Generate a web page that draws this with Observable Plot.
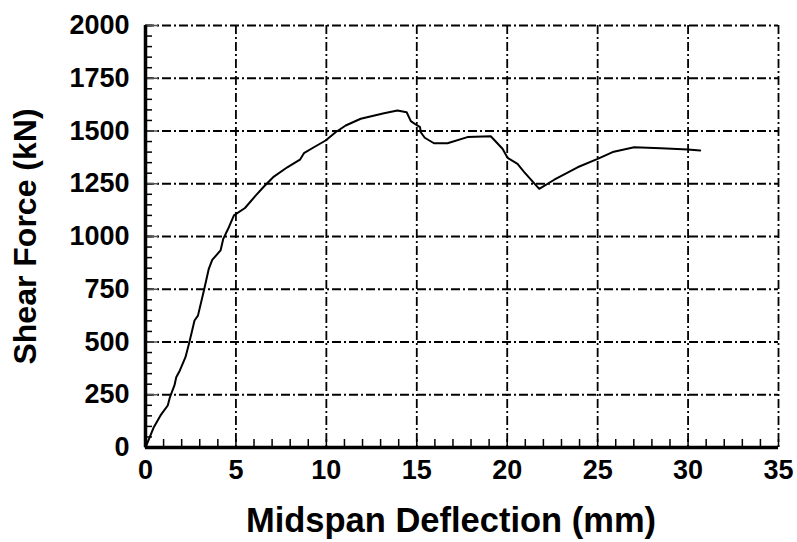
<!DOCTYPE html>
<html><head><meta charset="utf-8">
<script src="https://cdn.jsdelivr.net/npm/d3@7"></script>
<script src="https://cdn.jsdelivr.net/npm/@observablehq/plot@0.6"></script>
<style>body{margin:0;background:#fff}</style>
</head><body><div id="chart"></div>
<script>
const deflection = [0,0.46,0.83,1.23,1.35,1.42,1.6,1.7,1.9,2.21,2.4,2.58,2.71,2.9,3.23,3.5,3.69,4.15,4.3,4.61,4.89,5.5,6.09,6.55,7.1,7.84,8.54,8.76,9.31,9.96,10.51,11.07,11.9,13.19,13.93,14.44,14.67,14.94,15.18,15.22,15.44,15.95,16.7,17.8,19.09,19.74,20.02,20.57,20.94,21.77,22.6,23.89,25.0,25.83,27.02,28.5,29.98,30.67];
const shear = [0,96,152,199,238,254,294,333,365,428,491,554,602,625,744,847,889,934,989,1044,1100,1135,1194,1237,1284,1328,1364,1395,1423,1455,1494,1526,1558,1584,1597,1589,1547,1531,1518,1494,1468,1442,1442,1471,1475,1416,1373,1344,1305,1226,1269,1328,1368,1400,1423,1418,1412,1408];
const xTicks = [0,5,10,15,20,25,30,35];
const yTicks = [0,250,500,750,1000,1250,1500,1750,2000];
const xMinor = d3.range(0,36,1);
const yMinor = d3.range(0,2001,50);
const xTitle = "Midspan Deflection (mm)";
const yTitle = "Shear Force (kN)";
const data = deflection.map((d,i)=>({x:d,y:shear[i]}));
const dash = "9,3,2,3";
const fmt = d3.format("d");
const chart = Plot.plot({
  width:797, height:542, marginLeft:145, marginRight:19, marginTop:25, marginBottom:95,
  style:{fontFamily:"'Liberation Sans', Arial, sans-serif", fontWeight:"bold", background:"#fff", color:"#000"},
  x:{domain:[0,35]}, y:{domain:[0,2000]},
  marks:[
    Plot.ruleX(xTicks.filter(d=>d>0), {stroke:"#000", strokeWidth:1.8, strokeDasharray:dash}),
    Plot.ruleY(yTicks.filter(d=>d>0), {stroke:"#000", strokeWidth:1.8, strokeDasharray:dash}),
    Plot.axisX({ticks:xMinor, tickSize:-8, tickFormat:()=>"", label:null, strokeWidth:1.5}),
    Plot.axisY({ticks:yMinor, tickSize:-7, tickFormat:()=>"", label:null, strokeWidth:1.5}),
    Plot.axisY({ticks:yTicks, tickSize:-13, tickFormat:()=>"", label:null, strokeWidth:1.5, stroke:"#555"}),
    Plot.axisX({ticks:xTicks, tickSize:0, tickPadding:12, fontSize:27, label:null, tickFormat:fmt}),
    Plot.axisY({ticks:yTicks, tickSize:0, tickPadding:16, fontSize:27, label:null, tickFormat:fmt}),
    Plot.ruleX([0], {stroke:"#000", strokeWidth:3.5}),
    Plot.ruleY([0], {stroke:"#000", strokeWidth:3.5}),
    Plot.line(data, {x:"x", y:"y", stroke:"#000", strokeWidth:2}),
    Plot.text([xTitle], {text:d=>d, frameAnchor:"bottom", dy:73, dx:-11, textAnchor:"middle", lineAnchor:"middle", fontSize:34.5, fontWeight:"bold"}),
    Plot.text([yTitle], {text:d=>d, frameAnchor:"left", dx:-120, rotate:-90, textAnchor:"middle", lineAnchor:"middle", fontSize:32, fontWeight:"bold"})
  ]
});
document.getElementById("chart").append(chart);
</script>
</body></html>
